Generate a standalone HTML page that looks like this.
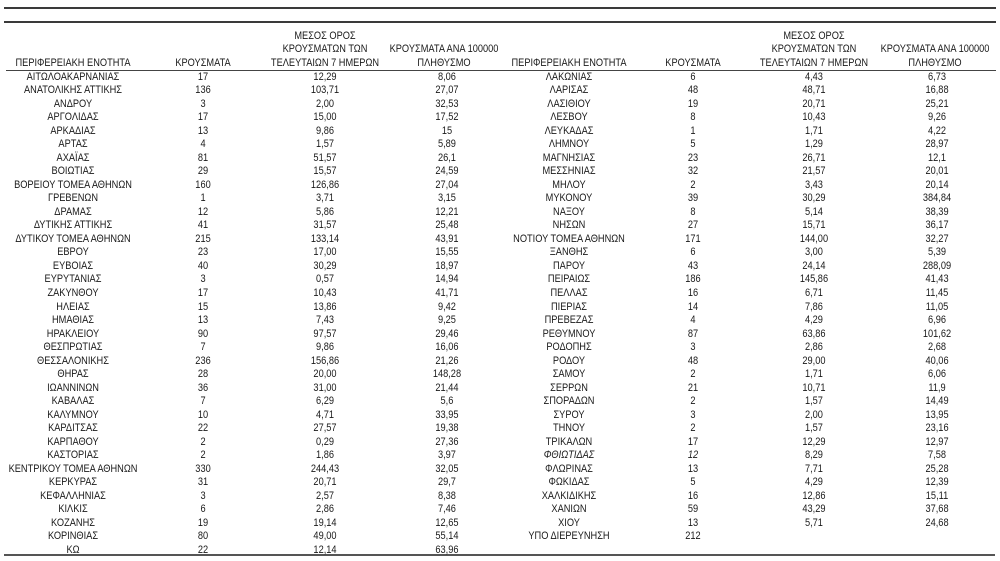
<!DOCTYPE html>
<html>
<head>
<meta charset="utf-8">
<style>
  html,body{margin:0;padding:0;background:#fff;}
  #wrap{position:relative;width:1000px;height:561px;overflow:hidden;background:#fff;}
  .ln{position:absolute;background:#3a3a3a;}
  #txt{position:absolute;left:0;top:0;width:1191px;height:561px;transform:scaleX(0.84);transform-origin:0 0;
       font-family:"Liberation Sans","DejaVu Sans",sans-serif;font-size:11px;color:#1a1a1a;}
  .col{position:absolute;width:200px;text-align:center;line-height:13.51px;top:70.75px;white-space:nowrap;}
  .hd{position:absolute;width:200px;text-align:center;line-height:13.5px;white-space:nowrap;}
  .c1{left:-13.1px}.c2{left:141.7px}.c3{left:286.9px}.c4{left:432.1px}
  .c5{left:577.4px}.c6{left:725px}.c7{left:869px}.c8{left:1015.5px}
  i{font-style:italic}
</style>
</head>
<body>
<div id="wrap">
  <div class="ln" style="left:4px;top:7px;width:992px;height:2px;"></div>
  <div class="ln" style="left:4px;top:21px;width:992px;height:2px;"></div>
  <div class="ln" style="left:6px;top:69.5px;width:990px;height:1.5px;background:#444;"></div>
  <div class="ln" style="left:4px;top:554px;width:991px;height:2px;background:#555;"></div>

  <div id="txt">
    <!-- headers left -->
    <div class="hd c1" style="top:56.5px">ΠΕΡΙΦΕΡΕΙΑΚΗ ΕΝΟΤΗΤΑ</div>
    <div class="hd c2" style="top:56.5px">ΚΡΟΥΣΜΑΤΑ</div>
    <div class="hd c3" style="top:29.5px">ΜΕΣΟΣ ΟΡΟΣ<br>ΚΡΟΥΣΜΑΤΩΝ ΤΩΝ<br>ΤΕΛΕΥΤΑΙΩΝ 7 ΗΜΕΡΩΝ</div>
    <div class="hd" style="top:43px;left:428.6px">ΚΡΟΥΣΜΑΤΑ ΑΝΑ 100000<br>ΠΛΗΘΥΣΜΟ</div>
    <!-- headers right -->
    <div class="hd c5" style="top:56.5px">ΠΕΡΙΦΕΡΕΙΑΚΗ ΕΝΟΤΗΤΑ</div>
    <div class="hd c6" style="top:56.5px">ΚΡΟΥΣΜΑΤΑ</div>
    <div class="hd c7" style="top:29.5px">ΜΕΣΟΣ ΟΡΟΣ<br>ΚΡΟΥΣΜΑΤΩΝ ΤΩΝ<br>ΤΕΛΕΥΤΑΙΩΝ 7 ΗΜΕΡΩΝ</div>
    <div class="hd" style="top:43px;left:1013.1px">ΚΡΟΥΣΜΑΤΑ ΑΝΑ 100000<br>ΠΛΗΘΥΣΜΟ</div>

    <!-- left data -->
    <div class="col c1">ΑΙΤΩΛΟΑΚΑΡΝΑΝΙΑΣ<br>ΑΝΑΤΟΛΙΚΗΣ ΑΤΤΙΚΗΣ<br>ΑΝΔΡΟΥ<br>ΑΡΓΟΛΙΔΑΣ<br>ΑΡΚΑΔΙΑΣ<br>ΑΡΤΑΣ<br>ΑΧΑΪΑΣ<br>ΒΟΙΩΤΙΑΣ<br>ΒΟΡΕΙΟΥ ΤΟΜΕΑ ΑΘΗΝΩΝ<br>ΓΡΕΒΕΝΩΝ<br>ΔΡΑΜΑΣ<br>ΔΥΤΙΚΗΣ ΑΤΤΙΚΗΣ<br>ΔΥΤΙΚΟΥ ΤΟΜΕΑ ΑΘΗΝΩΝ<br>ΕΒΡΟΥ<br>ΕΥΒΟΙΑΣ<br>ΕΥΡΥΤΑΝΙΑΣ<br>ΖΑΚΥΝΘΟΥ<br>ΗΛΕΙΑΣ<br>ΗΜΑΘΙΑΣ<br>ΗΡΑΚΛΕΙΟΥ<br>ΘΕΣΠΡΩΤΙΑΣ<br>ΘΕΣΣΑΛΟΝΙΚΗΣ<br>ΘΗΡΑΣ<br>ΙΩΑΝΝΙΝΩΝ<br>ΚΑΒΑΛΑΣ<br>ΚΑΛΥΜΝΟΥ<br>ΚΑΡΔΙΤΣΑΣ<br>ΚΑΡΠΑΘΟΥ<br>ΚΑΣΤΟΡΙΑΣ<br>ΚΕΝΤΡΙΚΟΥ ΤΟΜΕΑ ΑΘΗΝΩΝ<br>ΚΕΡΚΥΡΑΣ<br>ΚΕΦΑΛΛΗΝΙΑΣ<br>ΚΙΛΚΙΣ<br>ΚΟΖΑΝΗΣ<br>ΚΟΡΙΝΘΙΑΣ<br>ΚΩ</div>
    <div class="col c2">17<br>136<br>3<br>17<br>13<br>4<br>81<br>29<br>160<br>1<br>12<br>41<br>215<br>23<br>40<br>3<br>17<br>15<br>13<br>90<br>7<br>236<br>28<br>36<br>7<br>10<br>22<br>2<br>2<br>330<br>31<br>3<br>6<br>19<br>80<br>22</div>
    <div class="col c3">12,29<br>103,71<br>2,00<br>15,00<br>9,86<br>1,57<br>51,57<br>15,57<br>126,86<br>3,71<br>5,86<br>31,57<br>133,14<br>17,00<br>30,29<br>0,57<br>10,43<br>13,86<br>7,43<br>97,57<br>9,86<br>156,86<br>20,00<br>31,00<br>6,29<br>4,71<br>27,57<br>0,29<br>1,86<br>244,43<br>20,71<br>2,57<br>2,86<br>19,14<br>49,00<br>12,14</div>
    <div class="col c4">8,06<br>27,07<br>32,53<br>17,52<br>15<br>5,89<br>26,1<br>24,59<br>27,04<br>3,15<br>12,21<br>25,48<br>43,91<br>15,55<br>18,97<br>14,94<br>41,71<br>9,42<br>9,25<br>29,46<br>16,06<br>21,26<br>148,28<br>21,44<br>5,6<br>33,95<br>19,38<br>27,36<br>3,97<br>32,05<br>29,7<br>8,38<br>7,46<br>12,65<br>55,14<br>63,96</div>

    <!-- right data -->
    <div class="col c5">ΛΑΚΩΝΙΑΣ<br>ΛΑΡΙΣΑΣ<br>ΛΑΣΙΘΙΟΥ<br>ΛΕΣΒΟΥ<br>ΛΕΥΚΑΔΑΣ<br>ΛΗΜΝΟΥ<br>ΜΑΓΝΗΣΙΑΣ<br>ΜΕΣΣΗΝΙΑΣ<br>ΜΗΛΟΥ<br>ΜΥΚΟΝΟΥ<br>ΝΑΞΟΥ<br>ΝΗΣΩΝ<br>ΝΟΤΙΟΥ ΤΟΜΕΑ ΑΘΗΝΩΝ<br>ΞΑΝΘΗΣ<br>ΠΑΡΟΥ<br>ΠΕΙΡΑΙΩΣ<br>ΠΕΛΛΑΣ<br>ΠΙΕΡΙΑΣ<br>ΠΡΕΒΕΖΑΣ<br>ΡΕΘΥΜΝΟΥ<br>ΡΟΔΟΠΗΣ<br>ΡΟΔΟΥ<br>ΣΑΜΟΥ<br>ΣΕΡΡΩΝ<br>ΣΠΟΡΑΔΩΝ<br>ΣΥΡΟΥ<br>ΤΗΝΟΥ<br>ΤΡΙΚΑΛΩΝ<br><i>ΦΘΙΩΤΙΔΑΣ</i><br>ΦΛΩΡΙΝΑΣ<br>ΦΩΚΙΔΑΣ<br>ΧΑΛΚΙΔΙΚΗΣ<br>ΧΑΝΙΩΝ<br>ΧΙΟΥ<br>ΥΠΟ ΔΙΕΡΕΥΝΗΣΗ</div>
    <div class="col c6">6<br>48<br>19<br>8<br>1<br>5<br>23<br>32<br>2<br>39<br>8<br>27<br>171<br>6<br>43<br>186<br>16<br>14<br>4<br>87<br>3<br>48<br>2<br>21<br>2<br>3<br>2<br>17<br><i>12</i><br>13<br>5<br>16<br>59<br>13<br>212</div>
    <div class="col c7">4,43<br>48,71<br>20,71<br>10,43<br>1,71<br>1,29<br>26,71<br>21,57<br>3,43<br>30,29<br>5,14<br>15,71<br>144,00<br>3,00<br>24,14<br>145,86<br>6,71<br>7,86<br>4,29<br>63,86<br>2,86<br>29,00<br>1,71<br>10,71<br>1,57<br>2,00<br>1,57<br>12,29<br>8,29<br>7,71<br>4,29<br>12,86<br>43,29<br>5,71</div>
    <div class="col c8">6,73<br>16,88<br>25,21<br>9,26<br>4,22<br>28,97<br>12,1<br>20,01<br>20,14<br>384,84<br>38,39<br>36,17<br>32,27<br>5,39<br>288,09<br>41,43<br>11,45<br>11,05<br>6,96<br>101,62<br>2,68<br>40,06<br>6,06<br>11,9<br>14,49<br>13,95<br>23,16<br>12,97<br>7,58<br>25,28<br>12,39<br>15,11<br>37,68<br>24,68</div>
  </div>
</div>
</body>
</html>
